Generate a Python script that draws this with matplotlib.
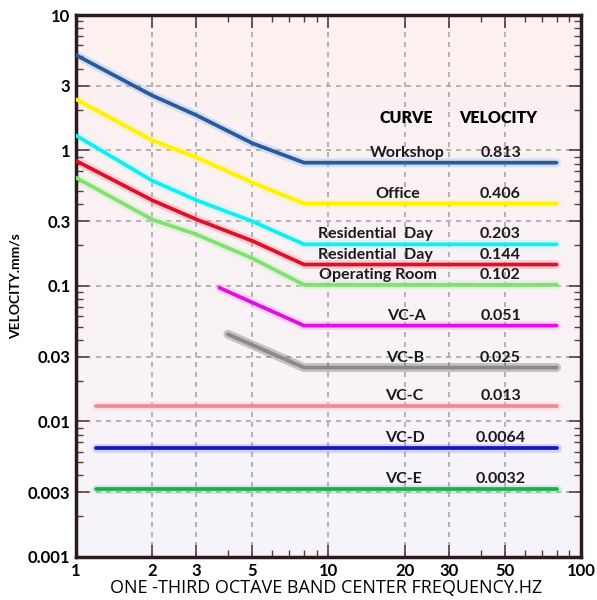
import numpy as np
import matplotlib
matplotlib.use("Agg")
import matplotlib.pyplot as plt

plt.rcParams['font.family'] = ['Lato', 'DejaVu Sans']

# vibration criterion curves (frequency Hz, velocity mm/s)
freq_slope = [1, 2, 3, 5, 8, 80]
workshop = [5.06, 2.55, 1.82, 1.13, 0.813, 0.813]
office = [2.39, 1.19, 0.89, 0.58, 0.406, 0.406]
res_day_a = [1.29, 0.60, 0.43, 0.30, 0.203, 0.203]
res_day_b = [0.84, 0.43, 0.31, 0.215, 0.144, 0.144]
operating = [0.63, 0.31, 0.24, 0.16, 0.102, 0.102]

freq_vca = [3.7, 8, 80]
vca = [0.097, 0.051, 0.051]
freq_vcb = [4, 8, 80]
vcb = [0.044, 0.025, 0.025]
freq_flat = [1.2, 80]
vcc = [0.013, 0.013]
vcd = [0.0064, 0.0064]
vce = [0.0032, 0.0032]

names = ["Workshop", "Office", "Residential  Day", "Residential  Day", "Operating Room",
         "VC-A", "VC-B", "VC-C", "VC-D", "VC-E"]
values = ["0.813", "0.406", "0.203", "0.144", "0.102",
          "0.051", "0.025", "0.013", "0.0064", "0.0032"]

curves = [
    (freq_slope, workshop, "#2b5a9c", "#7fb8f0"),
    (freq_slope, office, "#fff200", "#fff27a"),
    (freq_slope, res_day_a, "#10eef2", "#9ff6f8"),
    (freq_slope, res_day_b, "#e0102a", "#f08a90"),
    (freq_slope, operating, "#80e070", "#b8f0b0"),
    (freq_vca, vca, "#e010e0", "#f090f0"),
    (freq_vcb, vcb, "#8a8a8a", "#505050"),
    (freq_flat, vcc, "#f08a9a", "#f8c0c8"),
    (freq_flat, vcd, "#1414c8", "#8888f0"),
    (freq_flat, vce, "#18b050", "#80e0a0"),
]

# label x positions (Hz)
name_x = [20.6, 18.8, 15.4, 15.4, 15.7, 20.4, 20.2, 20.0, 20.0, 19.8]
value_x = 48

fig = plt.figure(figsize=(5.97, 6.0), dpi=100)
ax = fig.add_axes([0.1273, 0.0717, 0.8459, 0.9033])
ax.set_xscale('log')
ax.set_yscale('log')
ax.set_xlim(1, 100)
ax.set_ylim(0.001, 10)

# soft background gradient
grad = np.linspace(0, 1, 256).reshape(-1, 1)
top = np.array([253, 240, 240]) / 255
bot = np.array([246, 245, 251]) / 255
img = top + (bot - top) * grad[:, :, None]
ax.imshow(img, extent=[0, 1, 0, 1], transform=ax.transAxes, aspect='auto', zorder=0)

for (fx, fy, c, glow), nm, val, nx in zip(curves, names, values, name_x):
    ax.plot(fx, fy, color=glow, lw=6.5, alpha=0.3, solid_capstyle='round', zorder=2)
    ax.plot(fx, fy, color=c, lw=2.7, solid_capstyle='round', zorder=3)
    ax.text(nx, fy[-1] * 1.05, nm, ha='center', va='bottom', fontsize=11.5,
            fontweight='bold', color='#1a1a1a', zorder=4)
    ax.text(value_x, fy[-1] * 1.05, val, ha='center', va='bottom', fontsize=11.5,
            fontweight='bold', color='#1a1a1a', zorder=4)

ax.text(20.4, 1.75, "CURVE", ha='center', va='center', fontsize=11.5, fontweight='heavy')
ax.text(47, 1.75, "VELOCITY", ha='center', va='center', fontsize=11.5, fontweight='heavy')

xt = [1, 2, 3, 5, 10, 20, 30, 50, 100]
yt = [0.001, 0.003, 0.01, 0.03, 0.1, 0.3, 1, 3, 10]
ax.set_xticks(xt)
ax.set_xticklabels([str(v) for v in xt])
ax.set_yticks(yt)
ax.set_yticklabels([f"{v:g}" for v in yt])
ax.xaxis.set_minor_locator(matplotlib.ticker.LogLocator(subs=np.arange(1, 10)))
ax.yaxis.set_minor_locator(matplotlib.ticker.LogLocator(subs=np.arange(1, 10)))
ax.xaxis.set_minor_formatter(matplotlib.ticker.NullFormatter())
ax.yaxis.set_minor_formatter(matplotlib.ticker.NullFormatter())
ax.tick_params(which='both', direction='in', top=True, right=True, color='#5a3a3a')
ax.tick_params(which='major', length=9, width=1.2, labelsize=12, pad=4)
ax.tick_params(which='minor', length=5, width=1)
for lbl in ax.get_xticklabels() + ax.get_yticklabels():
    lbl.set_fontweight('bold')

ax.grid(which='major', color='#a8a8a8', linestyle=(0, (3, 3)), linewidth=1.2, zorder=1)
ax.set_axisbelow(True)

for s in ax.spines.values():
    s.set_linewidth(2.5)
    s.set_color('#2a1c1c')

ax.set_xlabel("ONE -THIRD OCTAVE BAND CENTER FREQUENCY.HZ", fontsize=13,
              family=['Open Sans', 'DejaVu Sans'])
ax.xaxis.set_label_coords(0.495, -0.04)
ax.set_ylabel("VELOCITY.mm/s", fontsize=10, fontweight='bold')
ax.yaxis.set_label_coords(-0.107, 0.5)

fig.savefig("out.png", dpi=100)
